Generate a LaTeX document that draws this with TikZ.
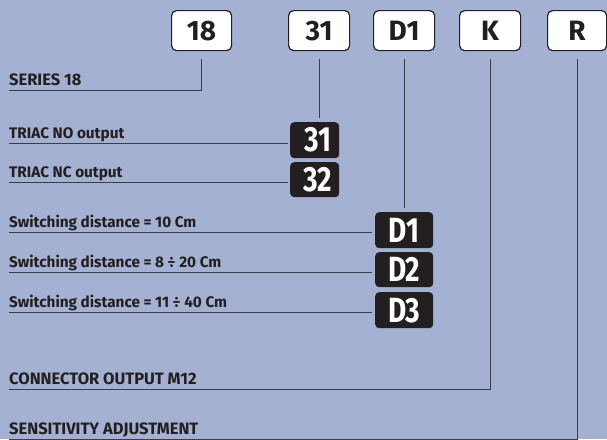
\documentclass[tikz,border=0pt]{standalone}
\usepackage{fontspec}
\setmainfont{Fira Sans}
\newfontfamily\boxfont{Fira Sans}[FakeStretch=0.8]
\definecolor{bg}{HTML}{A5B1D3}
\definecolor{ink}{HTML}{231F20}
\definecolor{rulec}{HTML}{3C3C46}
\begin{document}
\begin{tikzpicture}[x=1pt,y=-1pt,
  topbox/.style={draw=ink, line width=1.2pt, fill=white, rounded corners=5pt, minimum width=60pt, minimum height=40pt, inner sep=0pt, font=\bfseries\fontsize{28}{28}\selectfont, text=ink, anchor=north west},
  codebox/.style={fill=ink, rounded corners=4pt, inner sep=0pt, text=white, font=\boxfont\bfseries\fontsize{35}{35}\selectfont, anchor=north west},
  lbl/.style={anchor=south west, inner sep=0pt, text depth=4pt, text=ink, font=\bfseries\fontsize{15.3}{15.3}\selectfont},
  caplbl/.style={lbl, font=\bfseries\fontsize{16.5}{16.5}\selectfont},
  conn/.style={draw=rulec, line width=1pt},
]
\useasboundingbox (0,0) rectangle (607,439);
\fill[bg] (0,0) rectangle (607,439);
\clip (0,0) rectangle (607,439);

% top code boxes
\node[topbox] (b18) at (171,10) {18};
\node[topbox, minimum width=61pt] (b31) at (288,10) {31};
\node[topbox, minimum width=61pt] (bD) at (373,10) {D1};
\node[topbox, minimum width=61pt] (bK) at (459,10) {K};
\node[topbox, minimum width=59pt] (bR) at (547,10) {R};

% option boxes
\node[codebox, minimum width=49pt, minimum height=36pt] (k31) at (290,122) {\hspace{6pt}31};
\node[codebox, minimum width=49pt, minimum height=35pt] (k32) at (290,162) {\hspace{6pt}32};
\node[codebox, minimum width=58pt, minimum height=36pt] (kD1) at (375,212) {D1};
\node[codebox, minimum width=58pt, minimum height=35pt] (kD2) at (375,252) {D2};
\node[codebox, minimum width=58pt, minimum height=36pt] (kD3) at (375,292) {D3};

% labels
\node[caplbl] (l18) at (9,90) {SERIES 18};
\node[lbl] (l31) at (9,143) {TRIAC NO output};
\node[lbl] (l32) at (9,182) {TRIAC NC output};
\node[lbl] (lD1) at (9,232) {Switching distance = 10 Cm};
\node[lbl] (lD2) at (9,272) {Switching distance = 8 ÷ 20 Cm};
\node[lbl] (lD3) at (9,312) {Switching distance = 11 ÷ 40 Cm};
\node[caplbl] (lK) at (9,389) {CONNECTOR OUTPUT M12};
\node[caplbl] (lR) at (9,439) {SENSITIVITY ADJUSTMENT};

% connectors
\draw[conn] ([yshift=-8pt]b18.south) |- (l18.south west);
\draw[conn, shorten >=4pt] ([yshift=-8pt]b31.south) -- (b31.south |- k31.north);
\draw[conn, shorten >=2pt] (l31.south west) -- (l31.south west -| k31.west);
\draw[conn, shorten >=2pt] (l32.south west) -- (l32.south west -| k32.west);
\draw[conn, shorten >=4pt] ([yshift=-8pt]bD.south) -- (bD.south |- kD1.north);
\draw[conn, shorten >=3pt] (lD1.south west) -- (lD1.south west -| kD1.west);
\draw[conn, shorten >=3pt] (lD2.south west) -- (lD2.south west -| kD2.west);
\draw[conn, shorten >=3pt] (lD3.south west) -- (lD3.south west -| kD3.west);
\draw[conn] ([yshift=-8pt]bK.south) |- (lK.south west);
\draw[conn] ([yshift=-8pt]bR.south) |- (lR.south west);
\end{tikzpicture}
\end{document}
